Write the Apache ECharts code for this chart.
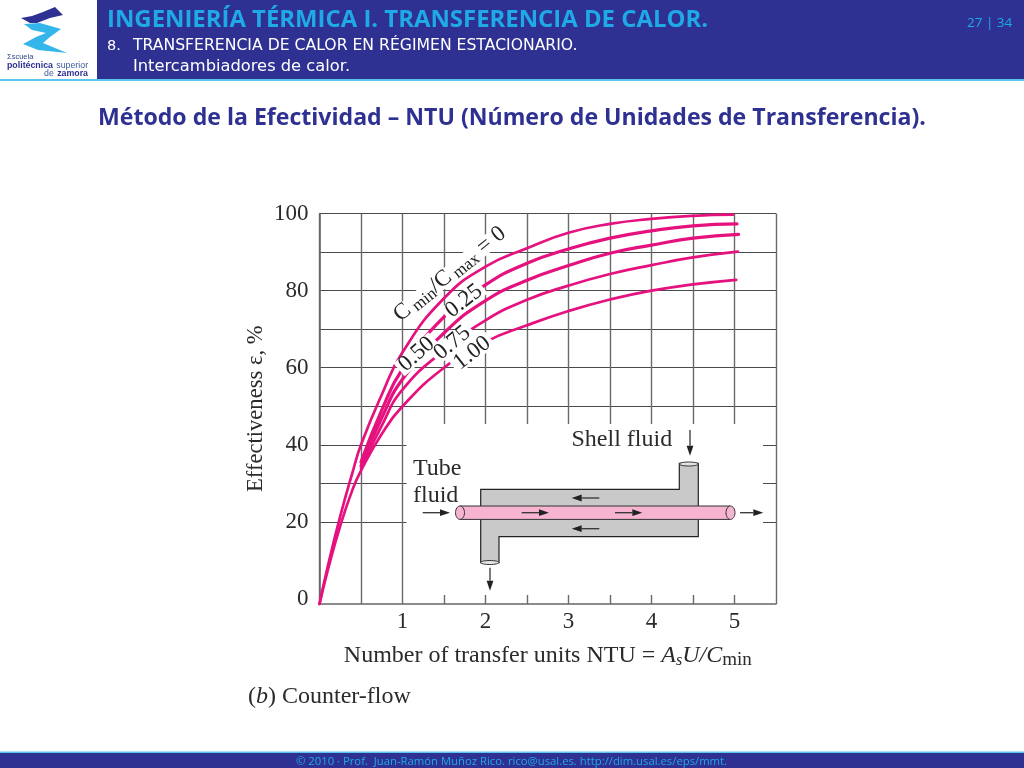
<!DOCTYPE html>
<html><head><meta charset="utf-8">
<style>html,body{margin:0;padding:0;background:#fff}#c{width:1024px;height:768px}</style>
<script src="https://cdn.jsdelivr.net/npm/echarts@6/dist/echarts.min.js"></script>
</head><body><div id="c"></div>
<script>
const ntu = [0,0.1,0.25,0.4,0.5,0.75,1,1.5,2,2.5,3,3.5,4,4.5,5];
const curveNames = ['0','0.25','0.50','0.75','1.00'];
const eff0   = [-1.3,8.5,21.5,33,40,53,64,78,86.2,91,95,97.3,98.6,99.4,99.7];
const eff025 = [null,null,null,null,35.5,49,59.7,73.2,81.5,87.1,90.8,93.6,95.5,96.8,97.3];
const eff050 = [null,null,null,null,34.5,47,57,69,77.4,82.7,86.5,89.7,91.8,93.6,94.6];
const eff075 = [null,null,null,null,33.8,45,54.3,64.5,72.3,77.6,81.3,84.3,86.6,88.6,90.1];
const eff100 = [-1.3,7.5,19,28.5,33.3,42.8,50,60,66.7,71,74.7,77.7,80,81.6,82.8];
const curveEndNtu = [4.98,5.03,5.05,5.04,5.02];
const curveWidths = [2.7,3.2,3.2,2.7,2.7];
const yLabelValues = [0,20,40,60,80,100];
const yLineValues = [0,20,30,40,50,60,70,80,90,100];
const labelText = ['{m|C}{s| min}{m|/C}{s| max}{m| = 0}','{m|0.25}','{m|0.50}','{m|0.75}','{m|1.00}'];
const labelNtu = [1.57,1.74,1.17,1.6,1.84];
const labelEff = [84.3,77.3,63.5,66.4,63.8];
const labelRot = [39,38,42,40,38];
const labelGapWidth = [128,47,47,47,47];

const serif = '"Liberation Serif"';
const ui = '"Open Sans"';
const dj = '"DejaVu Sans"';
const navy = '#2E3192', cyan = '#5CC6EE', sky = '#1FA9E6', ink = '#2b2b2b';
const Z = 50;
const T = (x,y,text,font,fill,extra) => ({type:'text',z:Z,x,y,style:Object.assign({text,font,fill,verticalAlign:'middle'},extra||{})});
const R = (x,y,w,h,fill,z) => ({type:'rect',z:z||Z-1,shape:{x,y,width:w,height:h},style:{fill}});
const Pg = (pts,fill,stroke,z) => ({type:'polygon',z:z||Z,shape:{points:pts},style:{fill,stroke:stroke||null,lineWidth:stroke?1.2:0}});
function arrow(x1,y1,x2,y2){
  const a=Math.atan2(y2-y1,x2-x1),L=10,W=3.4,bx=x2-L*Math.cos(a),by=y2-L*Math.sin(a);
  return [{type:'line',z:Z+3,shape:{x1,y1,x2:bx,y2:by},style:{stroke:'#333',lineWidth:1.3}},
    Pg([[x2,y2],[bx-W*Math.sin(a),by+W*Math.cos(a)],[bx+W*Math.sin(a),by-W*Math.cos(a)]],'#222',null,Z+3)];
}
const inset = [
  R(406.5,424,356.5,171,'#fff',10),
  Pg([[480.7,489.3],[679.3,489.3],[679.3,463.3],[698.3,463.3],[698.3,536.7],[499,536.7],[499,562.7],[480.7,562.7]],'#c9c9c9','#222',Z),
  {type:'ellipse',z:Z+1,shape:{cx:688.8,cy:464,rx:9.5,ry:2},style:{fill:'#e4e4e4',stroke:'#333',lineWidth:1}},
  {type:'ellipse',z:Z+1,shape:{cx:489.8,cy:562.5,rx:9.2,ry:2},style:{fill:'#e4e4e4',stroke:'#333',lineWidth:1}},
  R(460,506,270,13.4,'#F6B4D0',Z+1),
  {type:'line',z:Z+2,shape:{x1:460,y1:506,x2:730,y2:506},style:{stroke:'#333',lineWidth:1}},
  {type:'line',z:Z+2,shape:{x1:460,y1:519.4,x2:730,y2:519.4},style:{stroke:'#333',lineWidth:1}},
  {type:'ellipse',z:Z+2,shape:{cx:460,cy:512.7,rx:4.5,ry:6.7},style:{fill:'#F6B4D0',stroke:'#333',lineWidth:1}},
  {type:'ellipse',z:Z+2,shape:{cx:730.5,cy:512.7,rx:4.5,ry:6.7},style:{fill:'#F6B4D0',stroke:'#333',lineWidth:1}},
  ...arrow(422.7,512.7,450,512.7),...arrow(521.7,512.7,549,512.7),...arrow(615,512.7,642.3,512.7),...arrow(740,512.7,763.3,512.7),
  ...arrow(599.3,498,571.7,498),...arrow(599.3,528.7,571.7,528.7),
  ...arrow(690,430,690,455.7),...arrow(490,567.7,490,590.7),
  T(571.5,440,'Shell fluid','24px '+serif,ink),
  T(413,469,'Tube','24px '+serif,ink),
  T(413,496,'fluid','24px '+serif,ink)
];
const header = [
  R(97,0,927,79,navy),
  R(0,79,1024,2,cyan),
  R(0,752,1024,16,navy),
  R(0,751.5,1024,1.6,cyan),
  T(107,20,'INGENIERÍA TÉRMICA I. TRANSFERENCIA DE CALOR.','bold 23.9px '+ui,sky),
  T(107,46,'8.','14.5px '+dj,'#fff'),
  T(133,46,'TRANSFERENCIA DE CALOR EN RÉGIMEN ESTACIONARIO.','15.65px '+dj,'#fff',{}),
  T(133,67,'Intercambiadores de calor.','16.3px '+dj,'#fff'),
  T(967,23,'27 | 34','13.5px '+ui,sky),
  T(98,118,'Método de la Efectividad – NTU (Número de Unidades de Transferencia).','bold 23.1px '+ui,navy),
  T(511.5,761.5,'© 2010 · Prof.  Juan-Ramón Muñoz Rico. rico@usal.es. http://dim.usal.es/eps/mmt.','11.3px '+ui,sky,{align:'center'}),
  // logo
  Pg([[21,18],[32,16],[43,12],[55,7],[60,12],[63,15],[50,18],[37,23],[30,23]],navy),
  Pg([[24,24],[40,23],[61,29],[50,37],[43,43],[67,53],[38,50],[23,44],[36,37],[46,33],[32,30]],'#35B6EA'),
  T(7,57,'Σscuela','7.5px "Liberation Sans"','#2e4a8a'),
  {type:'text',z:Z,x:7,y:66,style:{text:'{b|politécnica} {n|superior}',verticalAlign:'middle',rich:{b:{font:'bold 8.8px "Liberation Sans"',fill:navy},n:{font:'8.8px "Liberation Sans"',fill:'#3a5a9a'}}}},
  {type:'text',z:Z,x:88,y:73.5,style:{text:'{n|de} {b|zamora}',align:'right',verticalAlign:'middle',rich:{b:{font:'bold 8.8px "Liberation Sans"',fill:navy},n:{font:'8.8px "Liberation Sans"',fill:'#3a5a9a'}}}},
  // caption
  {type:'text',z:Z,x:248,y:697,style:{text:'{n|(}{i|b}{n|) Counter-flow}',verticalAlign:'middle',rich:{n:{font:'24px '+serif,fill:ink},i:{font:'italic 24px '+serif,fill:ink}}}}
];
const curves = [eff0,eff025,eff050,eff075,eff100];
const series = curves.map((vals,k)=>({
  type:'line',name:curveNames[k],smooth:0.5,showSymbol:false,connectNulls:false,clip:false,z:3,
  lineStyle:{color:'#E5117F',width:curveWidths[k],cap:'round'},
  data:vals.map((v,i)=>[i===ntu.length-1?curveEndNtu[k]:ntu[i],v])
}));
const chart = echarts.init(document.getElementById('c'),null,{renderer:'canvas'});
chart.setOption({
  animation:false,backgroundColor:'#fff',
  grid:{left:319.5,top:213.5,width:456.5,height:390.5,containLabel:false},
  xAxis:{type:'value',min:0,max:5.5,interval:0.5,
    name:'{n|Number of transfer units }{n|NTU = }{i|A}{si|s}{i|U/C}{su|min}',nameLocation:'middle',nameGap:37,
    nameTextStyle:{rich:{n:{fontFamily:serif,fontSize:24,color:ink},i:{fontFamily:serif,fontStyle:'italic',fontSize:24,color:ink},
      si:{fontFamily:serif,fontStyle:'italic',fontSize:16,color:ink,padding:[10,0,0,0]},su:{fontFamily:serif,fontSize:19,color:ink,padding:[10,0,0,0]}}},
    axisLine:{show:true,onZero:false,lineStyle:{color:'#666',width:1.6}},axisTick:{show:false},
    axisLabel:{margin:6,fontFamily:serif,fontSize:23,color:ink,formatter:v=>(v>0&&Number.isInteger(v))?String(v):''},
    splitLine:{show:true,lineStyle:{color:'#6a6a6a',width:1.4}}},
  yAxis:{type:'value',min:-1.3,max:100,
    name:'Effectiveness ε, %',nameLocation:'middle',nameGap:52,
    nameTextStyle:{fontFamily:serif,fontSize:22.6,color:ink},
    axisLine:{show:true,onZero:false,lineStyle:{color:'#666',width:1.6}},
    axisTick:{show:false,customValues:yLineValues},
    axisLabel:{margin:11,fontFamily:serif,fontSize:23,color:ink,customValues:yLabelValues,formatter:v=>String(v)},
    splitLine:{show:true,showMinLine:false,lineStyle:{color:'#4a4a4a',width:1.1}}},
  graphic:{elements:[...inset,...header]},
  series
});
// Curve labels are placed through the chart's own scales.
const curveLabels = [];
labelText.forEach((t,i)=>{
  const p = chart.convertToPixel({gridIndex:0},[labelNtu[i],labelEff[i]]);
  const rotation = labelRot[i]*Math.PI/180, w = labelGapWidth[i];
  curveLabels.push({type:'rect',z:Z+5,x:p[0],y:p[1],rotation,originX:0,originY:0,
    shape:{x:-w/2,y:-8.5,width:w,height:17},style:{fill:'#fff'}});
  curveLabels.push({type:'text',z:Z+6,x:p[0],y:p[1],rotation,originX:0,originY:0,
    style:{text:t,align:'center',verticalAlign:'middle',
      rich:{m:{font:'23px '+serif,fill:'#222'},s:{font:'17px '+serif,fill:'#222',padding:[9,0,0,0]}}}});
});
chart.setOption({graphic:{elements:[...inset,...header,...curveLabels]}},{replaceMerge:['graphic']});
</script></body></html>
